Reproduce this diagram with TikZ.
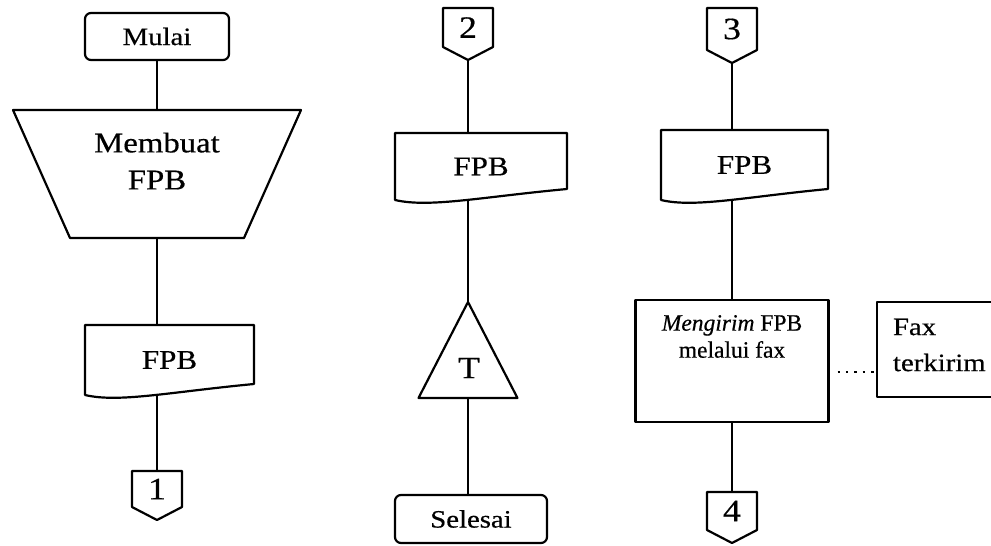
\documentclass[tikz,border=0pt]{standalone}
\usepackage{fontspec}
\setmainfont[FakeStretch=1.15,FakeBold=0.5]{Liberation Serif}
\newfontfamily\plainserif[FakeBold=0.5]{Liberation Serif}
\usetikzlibrary{calc}
\pgfdeclarelayer{links}
\pgfdeclarelayer{outlines}
\pgfsetlayers{links,outlines,main}

\newcommand\fsTerm{\fontsize{25}{26}\selectfont}
\newcommand\fsTrap{\fontsize{28.5}{37}\selectfont}
\newcommand\fsBig{\fontsize{27}{37}\selectfont}
\newcommand\fsNum{\fontsize{31}{32}\selectfont}
\newcommand\fsMid{\plainserif\fontsize{23.5}{27}\selectfont}
\newcommand\fsFax{\fontsize{25}{36}\selectfont}

\begin{document}
\begin{tikzpicture}[x=1pt,y=-1pt,
  flowline/.style={line width=2.2pt,line join=round},
  every node/.style={inner sep=0pt,outer sep=0pt},
  terminal/.style={draw,fill=white,flowline,rounded corners=6pt},
  processbox/.style={draw,fill=white,flowline},
  shapebox/.style={},
  textlabel/.style={align=center}]

\useasboundingbox (0,0) rectangle (991,546);
\clip (0,0) rectangle (991,546);

% ---- column 1: creating the request form ----
\node[terminal,minimum width=144pt,minimum height=47pt,font=\fsTerm] (mulai) at (157,36.5) {Mulai};
\node[shapebox,minimum width=288pt,minimum height=128pt] (trap) at (157,174) {};
\node[textlabel,font=\fsTrap] (trapText) at (157,161) {Membuat\\FPB};
\node[shapebox,minimum width=169pt,minimum height=70pt,font=\fsBig] (doc1) at (169.5,360) {FPB};
\node[shapebox,minimum width=50pt,minimum height=36pt,font=\fsNum] (con1) at (157,489) {1};

% ---- column 2: filing ----
\node[shapebox,minimum width=50pt,minimum height=39pt,font=\fsNum] (con2) at (468,27.5) {2};
\node[shapebox,minimum width=172pt,minimum height=67pt,font=\fsBig] (doc2) at (481,166.5) {FPB};
\node[shapebox,minimum width=99pt,minimum height=96pt] (tri) at (468,350) {};
\node[font=\fsNum] (triText) at (469,368) {T};
\node[terminal,minimum width=152pt,minimum height=48pt,font=\fsTerm] (sel) at (471,519) {Selesai};

% ---- column 3: sending by fax ----
\node[shapebox,minimum width=50pt,minimum height=42pt,font=\fsNum] (con3) at (732,29) {3};
\node[shapebox,minimum width=167pt,minimum height=70pt,font=\fsBig] (doc3) at (744.5,165) {FPB};
\node[processbox,minimum width=193pt,minimum height=122pt] (proc) at (732,361) {};
\node[textlabel,font=\fsMid] (procText) at (732,336.5) {\textit{Mengirim} FPB\\melalui fax};
\node[processbox,minimum width=128pt,minimum height=95pt] (fax) at (941,349.5) {};
\node[anchor=west,align=left,font=\fsFax] (faxText) at (893,345) {Fax\\terkirim};
\node[shapebox,minimum width=50pt,minimum height=38pt,font=\fsNum] (con4) at (732,511) {4};

% ---- outlines of the special symbols ----
\begin{pgfonlayer}{outlines}
\begin{scope}[flowline]
  \draw[fill=white] (trap.north west) -- (trap.north east)
    -- ($(trap.south east)+(-57,0)$) -- ($(trap.south west)+(57,0)$) -- cycle;
  \foreach \d in {doc1,doc2,doc3}
    \draw[fill=white] (\d.north west) -- (\d.north east) -- ($(\d.south east)+(0,-11)$)
      .. controls ($(\d.south east)!0.5!(\d.south west)+(0,-3)$)
      and ($(\d.south east)!0.8!(\d.south west)+(0,8)$) .. (\d.south west) -- cycle;
  \foreach \c in {con1,con2,con3,con4}
    \draw[fill=white] (\c.north west) -- (\c.north east) -- (\c.south east)
      -- ($(\c.south)+(0,13)$) -- (\c.south west) -- cycle;
  \draw[fill=white] (tri.north) -- (tri.south east) -- (tri.south west) -- cycle;
\end{scope}
\end{pgfonlayer}

% ---- flow lines ----
\begin{pgfonlayer}{links}
\begin{scope}[flowline]
  \draw (mulai) -- (mulai |- trap);
  \draw (trap) -- (trap |- doc1);
  \draw (con1) -- (con1 |- doc1);
  \draw (con2) -- (con2 |- doc2);
  \draw (tri) -- (tri |- doc2);
  \draw (tri) -- (tri |- sel);
  \draw (con3) -- (con3 |- doc3);
  \draw (proc) -- (proc |- doc3);
  \draw (proc) -- (proc |- con4);
  \coordinate (dotA) at ($(proc.east)+(9,11)$);
  \draw[dash pattern=on 2.4pt off 6pt] (dotA) -- (dotA -| fax.west);
\end{scope}
\end{pgfonlayer}
\end{tikzpicture}
\end{document}
